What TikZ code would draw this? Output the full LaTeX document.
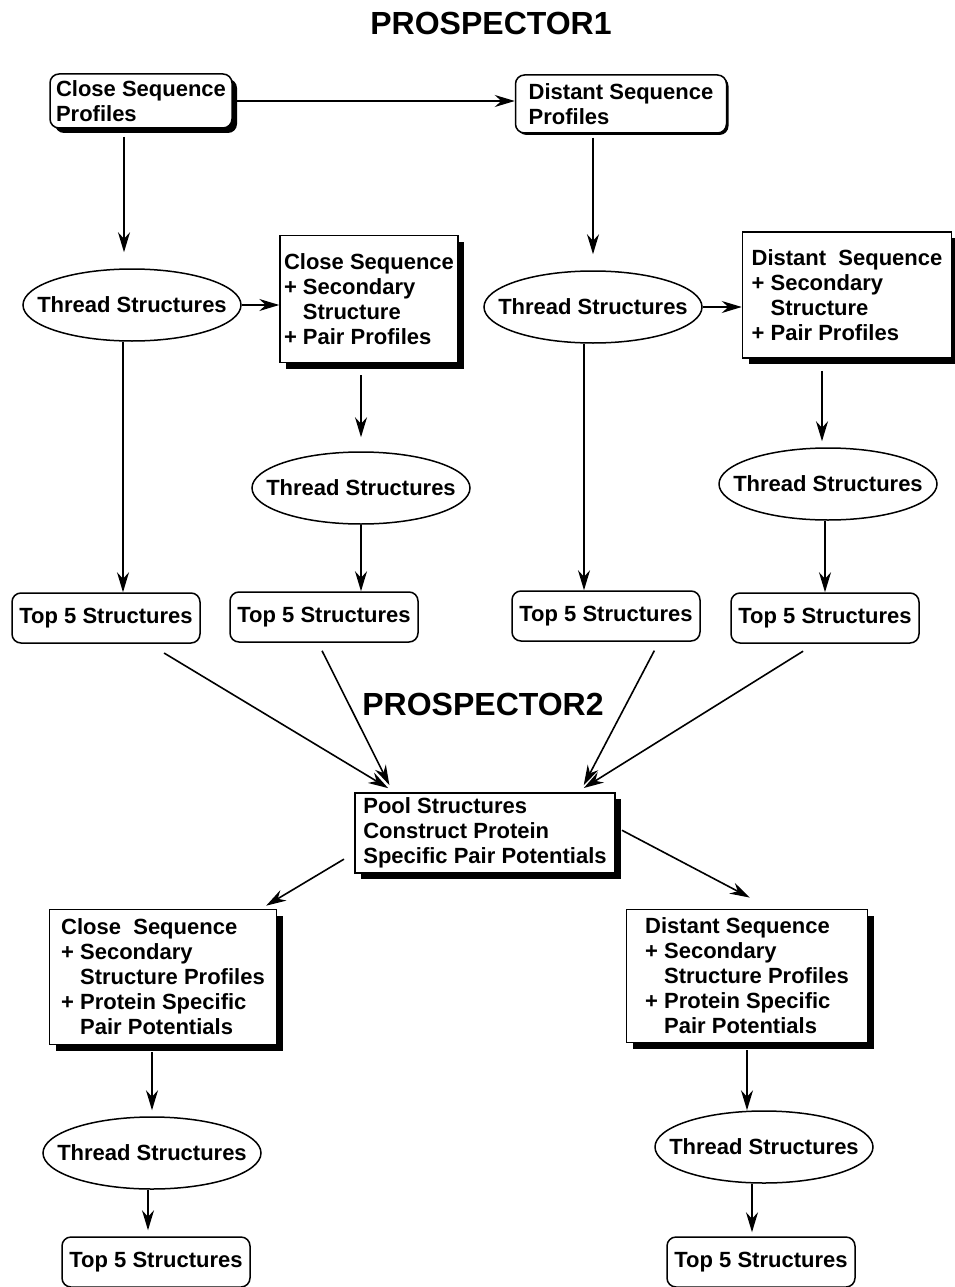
\documentclass[tikz,border=0pt]{standalone}
\usepackage{fontspec}
\setmainfont{Liberation Sans}
\usetikzlibrary{shapes.geometric,shadows,arrows.meta}
\tikzset{
  every node/.style={font=\fontsize{22}{25}\selectfont\bfseries},
  arr/.style={-{Stealth[length=20pt,width=12pt]},line width=1.6pt},
  rbox/.style={draw,line width=1.5pt,rounded corners=9pt,fill=white,align=left,inner sep=4pt},
  sbox/.style={draw,line width=1.5pt,fill=white,align=left,inner sep=4pt,
    drop shadow={shadow xshift=6pt,shadow yshift=-6pt,fill=black,opacity=1}},
  thread/.style={ellipse,draw,line width=1.5pt,minimum width=218pt,minimum height=72pt,
    inner xsep=-20pt,inner ysep=0pt},
  top5/.style={rbox,minimum width=188pt,minimum height=50pt},
  title/.style={font=\fontsize{32}{36}\selectfont\bfseries}
}
\begin{document}
\begin{tikzpicture}[x=1pt,y=1pt]
  \useasboundingbox (0,0) rectangle (955,-1287);
  % タイトル
  \node[title] (p1) at (491,-23) {PROSPECTOR1};
  \node[title] (p2) at (483,-704) {PROSPECTOR2};

  % 上段
  \node[rbox,minimum width=182pt,minimum height=54pt,
    drop shadow={shadow xshift=5pt,shadow yshift=-5pt,fill=black,opacity=1}]
    (cp) at (141,-101) {Close Sequence\\Profiles};
  \node[rbox,minimum width=211pt,minimum height=58pt,
    drop shadow={shadow xshift=2pt,shadow yshift=-2pt,fill=black,opacity=1}]
    (dp) at (621,-104) {Distant Sequence\\Profiles};
  \draw[arr] (cp.east) -- (cp.east -| dp.west);

  % PROSPECTOR1 の枝
  \node[thread] (e1) at (132,-305) {Thread Structures};
  \node[sbox,minimum width=172pt,minimum height=127pt] (cs) at (369,-299)
    {Close Sequence\\+ Secondary\\\phantom{+ }Structure\\+ Pair Profiles};
  \node[thread] (e2) at (361,-488) {Thread Structures};
  \node[thread] (e3) at (593,-307) {Thread Structures};
  \node[sbox,minimum width=209pt,minimum height=126pt] (ds) at (847,-295)
    {Distant\ \ Sequence\\+ Secondary\\\phantom{+ }Structure\\+ Pair Profiles};
  \node[thread] (e4) at (828,-484) {Thread Structures};

  \node[top5] (t1) at (106,-618) {Top 5 Structures};
  \node[top5] (t2) at (324,-617) {Top 5 Structures};
  \node[top5] (t3) at (606,-616) {Top 5 Structures};
  \node[top5] (t4) at (825,-618) {Top 5 Structures};

  \draw[arr,shorten <=8pt,shorten >=16pt] ([xshift=-8pt]cp.south -| e1.north) -- ([xshift=-8pt]e1.north);
  \draw[arr,shorten <=4pt,shorten >=16pt] (dp.south -| e3.north) -- (e3.north);
  \draw[arr] ([xshift=-9pt]e1.south) -- ([xshift=-9pt]e1.south |- t1.north);
  \draw[arr] (e1.east) -- (e1.east -| cs.west);
  \draw[arr,shorten <=12pt,shorten >=14pt] (e2.north |- cs.south) -- (e2.north);
  \draw[arr] (e2.south) -- (e2.south |- t2.north);
  \draw[arr] ([xshift=-9pt]e3.south) -- ([xshift=-9pt]e3.south |- t3.north);
  \draw[arr] (e3.east) -- (e3.east -| ds.west);
  \draw[arr,shorten <=12pt,shorten >=6pt] ([xshift=-6pt]e4.north |- ds.south) -- ([xshift=-6pt]e4.north);
  \draw[arr] ([xshift=-3pt]e4.south) -- ([xshift=-3pt]e4.south |- t4.north);

  % PROSPECTOR2
  \node[sbox,minimum width=260pt,minimum height=80pt] (pool) at (485,-833)
    {Pool Structures\\Construct Protein\\Specific Pair Potentials};
  \draw[arr,shorten <=18pt,shorten >=8pt] (t1) -- ([xshift=-90pt]pool.north);
  \draw[arr,shorten <=9pt,shorten >=8pt] ([xshift=-6pt]t2.south) -- ([xshift=-92pt]pool.north);
  \draw[arr,shorten <=10pt,shorten >=8pt] ([xshift=53pt]t3.south) -- ([xshift=95pt]pool.north);
  \draw[arr,shorten <=14pt,shorten >=8pt] ([xshift=-10pt]t4.south) -- ([xshift=92pt]pool.north);

  % 下段
  \node[sbox,minimum width=227pt,minimum height=135pt,inner xsep=8pt] (ce) at (163,-977)
    {Close\ \ Sequence\\+ Secondary\\\phantom{+ }Structure Profiles\\+ Protein Specific\\\phantom{+ }Pair Potentials};
  \node[sbox,minimum width=241pt,minimum height=133pt] (de) at (747,-976)
    {Distant Sequence\\+ Secondary\\\phantom{+ }Structure Profiles\\+ Protein Specific\\\phantom{+ }Pair Potentials};
  \draw[arr,shorten <=12pt,shorten >=6pt] ([yshift=-20pt]pool.west) -- ([xshift=98pt]ce.north);
  \draw[arr,shorten <=7pt,shorten >=24pt] ([yshift=6pt]pool.east) -- ([xshift=24pt]de.north);

  \node[thread] (e5) at (152,-1153) {Thread Structures};
  \node[thread] (e6) at (764,-1147) {Thread Structures};
  \node[top5] (t5) at (156,-1262) {Top 5 Structures};
  \node[top5] (t6) at (761,-1262) {Top 5 Structures};

  \draw[arr,shorten <=7pt,shorten >=6pt] (e5.north |- ce.south) -- (e5.north);
  \draw[arr,shorten >=6pt] ([xshift=-4pt]e5.south) -- ([xshift=-4pt]e5.south |- t5.north);
  \draw[arr,shorten <=7pt] (de.south) -- (de.south |- e6.north);
  \draw[arr,shorten >=4pt] ([xshift=-9pt]t6.north |- e6.south) -- ([xshift=-9pt]t6.north);
\end{tikzpicture}
\end{document}
